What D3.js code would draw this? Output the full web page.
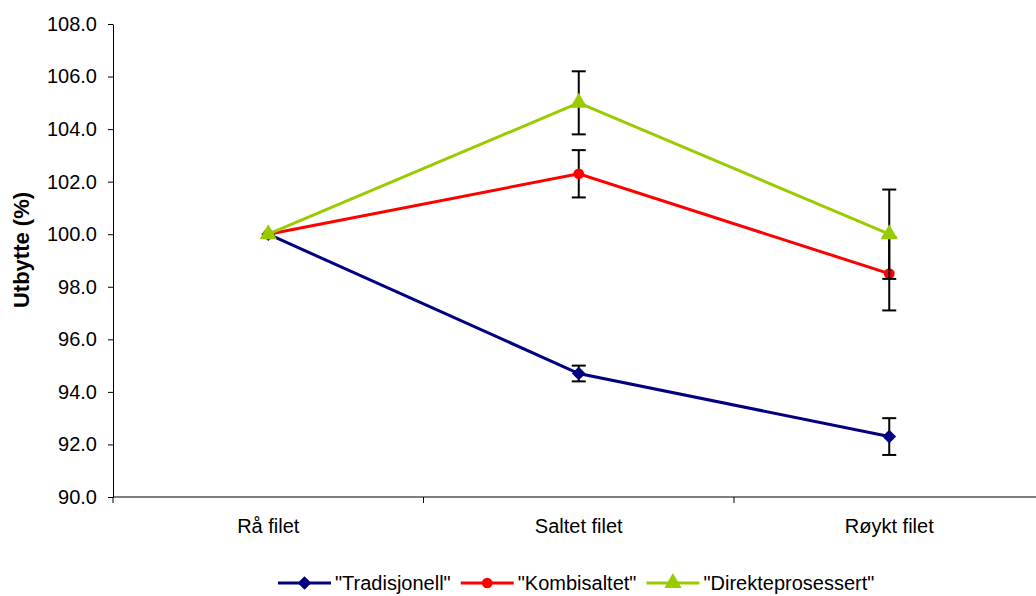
<!DOCTYPE html>
<html>
<head>
<meta charset="utf-8">
<script src="https://cdn.jsdelivr.net/npm/d3@7"></script>
<style>
  body { margin: 0; background: #fff; }
  svg { display: block; font-family: "Liberation Sans", Arial, sans-serif; }
</style>
</head>
<body>
<svg></svg>
<script>
let width = 1036;
let height = 596;

let categories = ['Rå filet', 'Saltet filet', 'Røykt filet'];
let seriesNames = ['"Tradisjonell"', '"Kombisaltet"', '"Direkteprosessert"'];
let tradValues = [100.0, 94.7, 92.3];
let tradErrors = [0, 0.3, 0.7];
let kombiValues = [100.0, 102.3, 98.5];
let kombiErrors = [0, 0.9, 1.4];
let direkteValues = [100.0, 105.0, 100.0];
let direkteErrors = [0, 1.2, 1.7];
let yTicks = [90, 92, 94, 96, 98, 100, 102, 104, 106, 108];

let colors = ['#000080', '#ff0000', '#99cc00'];
let shapes = [d3.symbolDiamond2, d3.symbolCircle, d3.symbolTriangle];
let shapeSizes = [120, 90, 130];

let series = [
    { name: seriesNames[0], values: tradValues, errors: tradErrors },
    { name: seriesNames[1], values: kombiValues, errors: kombiErrors },
    { name: seriesNames[2], values: direkteValues, errors: direkteErrors }
];

let plotLeft = 113, plotRight = 1044.5, plotTop = 24, plotBottom = 497;

let xBand = d3.scaleBand()
    .domain(categories)
    .range([plotLeft, plotRight]);

let xScale = d3.scalePoint()
    .domain(categories)
    .range([plotLeft, plotRight])
    .padding(0.5);

let yScale = d3.scaleLinear()
    .domain([90, 108])
    .range([plotBottom, plotTop]);

let svg = d3.select('svg')
    .attr('width', width)
    .attr('height', height);

// y axis
let yAxis = d3.axisLeft(yScale)
    .tickValues(yTicks)
    .tickFormat(d3.format('.1f'))
    .tickSize(5)
    .tickSizeOuter(0)
    .tickPadding(11);

let gy = svg.append('g')
    .attr('transform', `translate(${plotLeft}, 0)`)
    .call(yAxis);
gy.select('.domain').attr('stroke', '#000');
gy.selectAll('.tick line').attr('stroke', '#000');
gy.selectAll('.tick text')
    .style('font-size', '20px')
    .attr('fill', '#000');

// x axis
let gx = svg.append('g')
    .attr('transform', `translate(0, ${plotBottom})`);
gx.append('line')
    .attr('x1', plotLeft).attr('x2', width)
    .attr('stroke', '#000');
gx.selectAll('.xtick')
    .data(categories)
    .enter()
    .append('line')
        .attr('x1', d => xBand(d))
        .attr('x2', d => xBand(d))
        .attr('y1', 0)
        .attr('y2', 6)
        .attr('stroke', '#000');
gx.selectAll('.xlabel')
    .data(categories)
    .enter()
    .append('text')
        .attr('x', d => xScale(d))
        .attr('y', 36)
        .style('text-anchor', 'middle')
        .style('font-size', '20px')
        .text(d => d);

// y title
svg.append('text')
    .attr('transform', 'rotate(-90)')
    .attr('x', -250)
    .attr('y', 29)
    .style('text-anchor', 'middle')
    .style('font-size', '22px')
    .style('font-weight', 'bold')
    .text('Utbytte (%)');

let line = d3.line()
    .x((d, i) => xScale(categories[i]))
    .y(d => yScale(d));

series.forEach((s, k) => {
    let g = svg.append('g');

    // error bars
    s.values.forEach((v, i) => {
        if (!s.errors[i]) return;
        let x = xScale(categories[i]);
        let y1 = yScale(v + s.errors[i]);
        let y2 = yScale(v - s.errors[i]);
        g.append('line')
            .attr('x1', x).attr('x2', x)
            .attr('y1', y1).attr('y2', y2)
            .attr('stroke', '#000').attr('stroke-width', 2);
        [y1, y2].forEach(y => {
            g.append('line')
                .attr('x1', x - 7).attr('x2', x + 7)
                .attr('y1', y).attr('y2', y)
                .attr('stroke', '#000').attr('stroke-width', 2);
        });
    });

    g.append('path')
        .datum(s.values)
        .attr('d', line)
        .attr('fill', 'none')
        .attr('stroke', colors[k])
        .attr('stroke-width', 3);

    g.selectAll('.marker')
        .data(s.values)
        .enter()
        .append('path')
            .attr('transform', (d, i) => `translate(${xScale(categories[i])}, ${yScale(d)})`)
            .attr('d', d3.symbol().type(shapes[k]).size(shapeSizes[k]))
            .attr('fill', colors[k]);
});

// legend
let legend = svg.append('g');
let lx = 278;
let ly = 583;
series.forEach((s, k) => {
    let item = legend.append('g').attr('transform', `translate(${lx}, ${ly})`);
    item.append('line')
        .attr('x1', 0).attr('x2', 53)
        .attr('stroke', colors[k])
        .attr('stroke-width', 3);
    item.append('path')
        .attr('transform', 'translate(26.5, 0)')
        .attr('d', d3.symbol().type(shapes[k]).size(shapeSizes[k]))
        .attr('fill', colors[k]);
    let t = item.append('text')
        .attr('x', 57)
        .attr('y', 7)
        .style('font-size', '20px')
        .text(s.name);
    lx += 57 + t.node().getComputedTextLength() + 10;
});
</script>
</body>
</html>
